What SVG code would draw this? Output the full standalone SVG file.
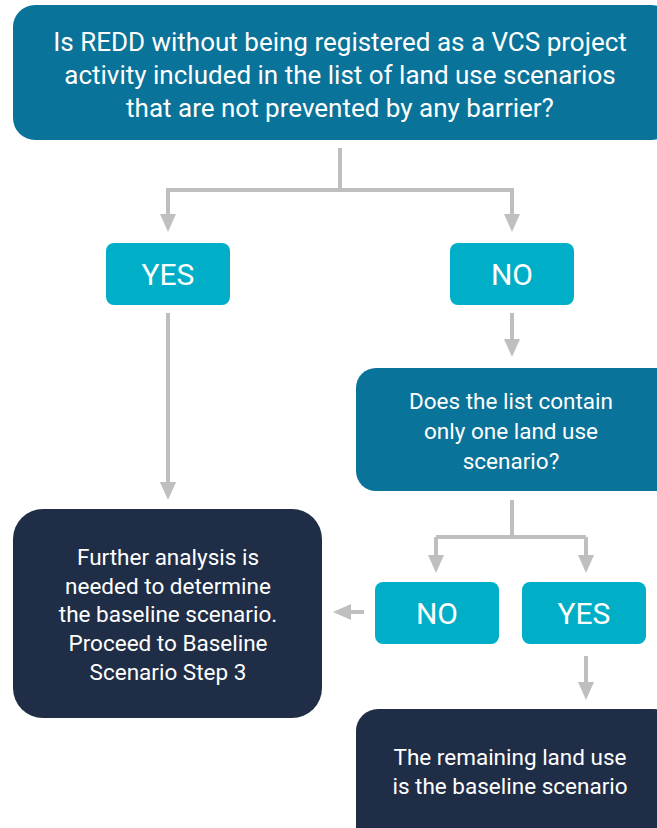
<svg xmlns="http://www.w3.org/2000/svg" width="657" height="828" viewBox="0 0 657 828">
<style>
.q{fill:#0A7399}
.a{fill:#00AFC7}
.d{fill:#1F2E46}
text{font-family:Roboto,"Liberation Sans",sans-serif;fill:#fff;text-anchor:middle}
.t1{font-size:26px}
.t2{font-size:22.5px}
.t4{font-size:22.5px}
.t3{font-size:30px}
.c{stroke:#BFBFBF;stroke-width:4;fill:none}
</style>
<defs>
<marker id="ah" markerWidth="4.5" markerHeight="4" refX="0.5" refY="2" orient="auto" markerUnits="strokeWidth">
<path d="M0,0 L4.5,2 L0,4 Z" fill="#BFBFBF"/>
</marker>
</defs>
<g id="q1">
<rect class="q" x="13" y="5" width="660" height="135" rx="22"/>
<text class="t1" x="340" y="51">Is REDD without being registered as a VCS project</text>
<text class="t1" x="340" y="84">activity included in the list of land use scenarios</text>
<text class="t1" x="340" y="117">that are not prevented by any barrier?</text>
</g>
<g id="yes1">
<rect class="a" x="106" y="243" width="124" height="62" rx="8"/>
<text class="t3" x="168" y="285">YES</text>
</g>
<g id="no1">
<rect class="a" x="450" y="243" width="124" height="62" rx="8"/>
<text class="t3" x="512" y="285">NO</text>
</g>
<g id="q2">
<rect class="q" x="356" y="368" width="320" height="123" rx="20"/>
<text class="t2" x="511" y="409">Does the list contain</text>
<text class="t2" x="511" y="439">only one land use</text>
<text class="t2" x="511" y="469">scenario?</text>
</g>
<g id="further">
<rect class="d" x="13" y="509" width="309" height="209" rx="30"/>
<text class="t4" x="168" y="565">Further analysis is</text>
<text class="t4" x="168" y="594">needed to determine</text>
<text class="t4" x="168" y="622">the baseline scenario.</text>
<text class="t4" x="168" y="651">Proceed to Baseline</text>
<text class="t4" x="168" y="680">Scenario Step 3</text>
</g>
<g id="no2">
<rect class="a" x="375" y="582" width="124" height="62" rx="8"/>
<text class="t3" x="437" y="624">NO</text>
</g>
<g id="yes2">
<rect class="a" x="522" y="582" width="124" height="62" rx="8"/>
<text class="t3" x="584" y="624">YES</text>
</g>
<g id="remaining">
<rect class="d" x="356" y="709" width="320" height="140" rx="22"/>
<text class="t4" x="510" y="765">The remaining land use</text>
<text class="t4" x="510" y="794">is the baseline scenario</text>
</g>
<g id="connectors">
<path class="c" d="M340,148 V190"/>
<path class="c" d="M168,218 V190 H512 V218" />
<path class="c" d="M168,190 V216" marker-end="url(#ah)"/>
<path class="c" d="M512,190 V216" marker-end="url(#ah)"/>
<path class="c" d="M168,313 V484" marker-end="url(#ah)"/>
<path class="c" d="M512,313 V341" marker-end="url(#ah)"/>
<path class="c" d="M512,500 V537"/>
<path class="c" d="M436,537 H586"/>
<path class="c" d="M436,537 V557" marker-end="url(#ah)"/>
<path class="c" d="M586,537 V557" marker-end="url(#ah)"/>
<path class="c" d="M364,612 H349" marker-end="url(#ah)"/>
<path class="c" d="M586,656 V684" marker-end="url(#ah)"/>
</g>
</svg>
